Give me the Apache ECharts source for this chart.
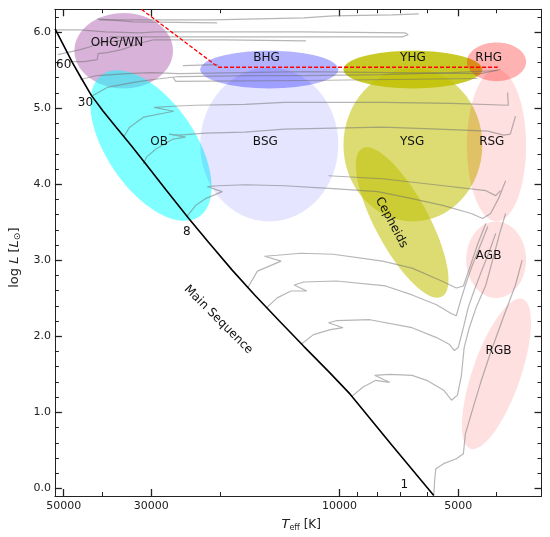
<!DOCTYPE html>
<html>
<head>
<meta charset="utf-8">
<title>HR diagram</title>
<script src="https://cdn.jsdelivr.net/npm/echarts@6.0.0/dist/echarts.min.js"></script>
<style>
  html, body { margin: 0; padding: 0; background: #fff; }
  #chart { width: 550px; height: 537px; }
</style>
</head>
<body>
<div id="chart"></div>
<script>
// x = log10(Teff / K), y = log10(L / Lsun)
var majorTeff = [50000, 30000, 10000, 5000];
var minorTeff = [40000, 20000, 9000, 8000, 7000, 6000, 4000];
var majorLogL = [0, 1, 2, 3, 4, 5, 6];
var minorLogL = [0.2, 0.4, 0.6, 0.8, 1.2, 1.4, 1.6, 1.8, 2.2, 2.4, 2.6, 2.8,
                 3.2, 3.4, 3.6, 3.8, 4.2, 4.4, 4.6, 4.8, 5.2, 5.4, 5.6, 5.8, 6.2];

// zero age main sequence
var msLogT = [4.721, 4.699, 4.677, 4.654, 4.629, 4.599, 4.564, 4.527, 4.489, 4.440,
              4.382, 4.332, 4.272, 4.215, 4.153, 4.090, 4.028, 3.973, 3.866, 3.761];
var msLogL = [6.043, 5.821, 5.599, 5.390, 5.168, 4.959, 4.737, 4.502, 4.254, 3.928,
              3.549, 3.236, 2.870, 2.544, 2.205, 1.865, 1.539, 1.239, 0.560, -0.093];

// Humphreys-Davidson limit
var hdLogT = [4.502, 4.307, 3.599];
var hdLogL = [6.30, 5.538, 5.538];

// evolutionary tracks [logTeff, logL]
var track120 = [[4.609, 6.160], [4.465, 6.160], [4.322, 6.160], [4.090, 6.186], [4.016, 6.213], [3.866, 6.226], [3.799, 6.239]];
var track120b = [[4.614, 6.173], [4.522, 6.134], [4.310, 6.121]];
var track85 = [[4.721, 6.030], [4.657, 6.030], [4.594, 6.004], [4.507, 5.991], [4.465, 6.004], [4.090, 6.004],
               [3.834, 5.991], [3.826, 5.965], [3.841, 5.938], [4.115, 5.938], [4.465, 5.938], [4.584, 5.938]];
var track60 = [[4.684, 5.612], [4.647, 5.612], [4.614, 5.638], [4.612, 5.716], [4.589, 5.730], [4.552, 5.769],
               [4.502, 5.860], [4.472, 5.899], [4.290, 5.899], [4.085, 5.886]];
var track60b = [[4.714, 5.703], [4.657, 5.769], [4.632, 5.808], [4.607, 5.860], [4.539, 5.899]];
var track40 = [[4.657, 5.377], [4.614, 5.429], [4.539, 5.455], [4.477, 5.468], [4.407, 5.455], [4.090, 5.481],
               [3.642, 5.455], [3.592, 5.508]];
var track40b = [[4.422, 5.403], [4.415, 5.351], [4.090, 5.364], [3.651, 5.390]];
var track40c = [[4.397, 5.560], [4.307, 5.573]];
var track30 = [[4.629, 5.155], [4.589, 5.273], [4.522, 5.338], [4.472, 5.377], [4.407, 5.416], [4.215, 5.429],
               [4.090, 5.429], [3.891, 5.442], [3.716, 5.468], [3.599, 5.495]];
var track20 = [[4.547, 4.620], [4.532, 4.750], [4.497, 4.881], [4.420, 4.959], [4.470, 5.011], [4.422, 5.025],
               [4.365, 5.038], [4.240, 5.051], [4.140, 5.077], [3.891, 5.077], [3.716, 5.064], [3.572, 5.038], [3.574, 5.207]];
var track12 = [[4.497, 4.267], [4.489, 4.359], [4.465, 4.463], [4.422, 4.594], [4.390, 4.620], [4.432, 4.659],
               [4.407, 4.646], [4.340, 4.672], [4.240, 4.685], [4.140, 4.724], [3.891, 4.750], [3.749, 4.724],
               [3.624, 4.698], [3.584, 4.646], [3.567, 4.659], [3.554, 4.894]];
var track9 = [[4.028, 4.111], [3.891, 4.072], [3.736, 3.980], [3.629, 3.915], [3.604, 3.850], [3.592, 3.915]];
var track8 = [[4.387, 3.575], [4.365, 3.719], [4.340, 3.810], [4.297, 3.902], [4.335, 3.967], [4.307, 3.980],
              [4.240, 3.993], [4.140, 3.980], [4.016, 3.941], [3.903, 3.902], [3.816, 3.810], [3.736, 3.719],
              [3.666, 3.615], [3.637, 3.549], [3.617, 3.615], [3.597, 3.810], [3.579, 4.045]];
var track5 = [[4.233, 2.635], [4.208, 2.857], [4.148, 2.988], [4.190, 3.053], [4.158, 3.066], [4.098, 3.092],
              [4.016, 3.079], [3.891, 2.988], [3.816, 2.897], [3.741, 2.727], [3.704, 2.635], [3.686, 2.662],
              [3.666, 2.962], [3.649, 3.223], [3.629, 3.484]];
var track4 = [[4.185, 2.374], [4.158, 2.505], [4.123, 2.596], [4.083, 2.596], [4.115, 2.675], [4.090, 2.714],
              [4.008, 2.727], [3.883, 2.662], [3.816, 2.544], [3.754, 2.414], [3.716, 2.296], [3.704, 2.270],
              [3.691, 2.505], [3.679, 2.701], [3.666, 2.897], [3.646, 3.158], [3.624, 3.445]];
var track3 = [[4.098, 1.891], [4.066, 2.022], [4.023, 2.087], [3.991, 2.113], [4.028, 2.178], [4.008, 2.205],
              [3.923, 2.218], [3.816, 2.113], [3.754, 1.983], [3.721, 1.891], [3.709, 1.813], [3.699, 1.852],
              [3.686, 2.113], [3.674, 2.374], [3.661, 2.570], [3.642, 2.831], [3.622, 3.092], [3.604, 3.354]];
var track2 = [[3.968, 1.213], [3.941, 1.330], [3.908, 1.421], [3.873, 1.395], [3.911, 1.487], [3.873, 1.500],
              [3.816, 1.487], [3.779, 1.421], [3.736, 1.291], [3.716, 1.160], [3.701, 1.226], [3.691, 1.487],
              [3.684, 1.852], [3.671, 2.113], [3.654, 2.374], [3.629, 2.675], [3.612, 3.001], [3.594, 3.354], [3.579, 3.615]];
var track1 = [[3.761, -0.093], [3.759, 0.090], [3.756, 0.259], [3.736, 0.325], [3.704, 0.390], [3.686, 0.455],
              [3.681, 0.716], [3.661, 1.069], [3.642, 1.395], [3.617, 1.787], [3.587, 2.218], [3.554, 2.675], [3.537, 3.001]];

// stellar regions: centre, semi-axes (dex), tilt (deg)
var regionNames = ['OHG/WN', 'OB', 'BHG', 'BSG', 'YHG', 'YSG', 'Cepheids', 'RHG', 'RSG', 'AGB', 'RGB'];
var regionLogT  = [4.547, 4.478, 4.178, 4.178, 3.814, 3.814, 3.841, 3.602, 3.602, 3.603, 3.602];
var regionLogL  = [5.756, 4.509, 5.508, 4.522, 5.508, 4.515, 3.497, 5.609, 4.509, 3.008, 1.506];
var regionHalfT = [0.125, 0.218, 0.175, 0.175, 0.176, 0.176, 0.2135, 0.075, 0.075, 0.076, 0.201];
var regionHalfL = [0.496, 0.581, 0.248, 1.012, 0.248, 1.005, 0.352, 0.255, 0.999, 0.503, 0.316];
var regionTilt  = [0, -55.7, 0, 0, 0, 0, -61.7, 0, 0, 0, 70.8];

// annotations
var labelText = ['OHG/WN', 'BHG', 'YHG', 'RHG', 'OB', 'BSG', 'YSG', 'RSG', 'AGB', 'RGB',
                 'Cepheids', 'Main Sequence', '60', '30', '8', '1'];
var labelLogT = [4.564, 4.185, 3.814, 3.622, 4.457, 4.188, 3.816, 3.614, 3.622, 3.597,
                 3.8685, 4.307, 4.699, 4.644, 4.387, 3.836];
var labelLogL = [5.860, 5.664, 5.664, 5.664, 4.560, 4.560, 4.560, 4.560, 3.053, 1.813,
                 3.497, 2.218, 5.573, 5.064, 3.367, 0.051];
var labelTilt = [0, 0, 0, 0, 0, 0, 0, 0, 0, 0, -62, -45, 0, 0, 0, 0];

var regionColors = [
  'rgba(128,0,128,0.3)', 'rgba(0,255,255,0.5)', 'rgba(0,0,255,0.3)', 'rgba(0,0,255,0.1)',
  'rgba(191,191,0,0.85)', 'rgba(191,191,0,0.55)', 'rgba(191,191,0,0.55)',
  'rgba(255,0,0,0.3)', 'rgba(255,0,0,0.12)', 'rgba(255,0,0,0.12)', 'rgba(255,0,0,0.12)'
];

var tracks = [track120, track120b, track85, track60, track60b, track40, track40b, track40c, track30,
              track20, track12, track9, track8, track5, track4, track3, track2, track1];

var FONT = 'DejaVu Sans';
var INK = '#222';
var log10 = function (v) { return Math.log10(v); };
var xMin = 3.488, xMax = 4.7214;

function xAxisDef(pos, values, len, labels) {
  return {
    type: 'value', position: pos, min: xMin, max: xMax, inverse: true,
    axisLine: { show: labels !== null, onZero: false, lineStyle: { color: INK, width: 1 } },
    axisTick: { show: true, inside: true, length: len, customValues: values,
                lineStyle: { color: INK, width: len > 5 ? 1.3 : 1 } },
    axisLabel: labels ? {
      show: true, customValues: values, margin: 5, color: INK, fontFamily: FONT, fontSize: 11,
      formatter: function (v) { return String(Math.round(Math.pow(10, v))); }
    } : { show: false },
    splitLine: { show: false }
  };
}
function yAxisDef(pos, values, len, labels) {
  return {
    type: 'value', position: pos, min: -0.1, max: 6.3,
    axisLine: { show: labels !== null, onZero: false, lineStyle: { color: INK, width: 1 } },
    axisTick: { show: true, inside: true, length: len, customValues: values,
                lineStyle: { color: INK, width: len > 5 ? 1.3 : 1 } },
    axisLabel: labels ? {
      show: true, customValues: values, margin: 4, color: INK, fontFamily: FONT, fontSize: 11,
      formatter: function (v) { return v.toFixed(1); }
    } : { show: false },
    splitLine: { show: false }
  };
}

var xBottom = xAxisDef('bottom', majorTeff.map(log10), 7, true);
xBottom.name = '{it|T}{sub|eff} [K]';
xBottom.nameLocation = 'middle';
xBottom.nameGap = 21;
xBottom.nameTextStyle = {
  fontFamily: FONT, fontSize: 12, color: INK, padding: [0, 0, 0, 6],
  rich: {
    it: { fontFamily: FONT, fontSize: 13, fontStyle: 'italic', color: INK },
    sub: { fontFamily: FONT, fontSize: 8, color: INK, padding: [7, 0, 0, 0] }
  }
};
var yLeft = yAxisDef('left', majorLogL, 7, true);
yLeft.name = 'log {it|L} [{it|L}{sub|⊙}]';
yLeft.nameLocation = 'middle';
yLeft.nameGap = 27;
yLeft.nameTextStyle = {
  fontFamily: FONT, fontSize: 13, color: INK, padding: [0, 10, 0, 0],
  rich: {
    it: { fontFamily: FONT, fontSize: 13, fontStyle: 'italic', color: INK },
    sub: { fontFamily: FONT, fontSize: 9, color: INK, padding: [7, 0, 0, 0] }
  }
};

var series = [];
series.push({
  type: 'custom', name: 'regions', z: 1, silent: true,
  encode: { x: 0, y: 1 },
  data: regionNames.map(function (n, i) {
    return [regionLogT[i], regionLogL[i], regionHalfT[i], regionHalfL[i], regionTilt[i]];
  }),
  renderItem: function (params, api) {
    var c = api.coord([api.value(0), api.value(1)]);
    var rx = api.size([api.value(2), 0])[0];
    var ry = api.size([0, api.value(3)])[1];
    return {
      type: 'ellipse', x: c[0], y: c[1], rotation: api.value(4) * Math.PI / 180,
      shape: { cx: 0, cy: 0, rx: rx, ry: ry },
      style: { fill: regionColors[params.dataIndex], stroke: null }
    };
  }
});
tracks.forEach(function (t) {
  series.push({
    type: 'line', z: 2, silent: true, showSymbol: false, symbol: 'none',
    data: t, lineStyle: { color: 'rgba(110,110,110,0.5)', width: 1.2 }
  });
});
series.push({
  type: 'line', name: 'MS', z: 3, silent: true, showSymbol: false, symbol: 'none',
  data: msLogT.map(function (v, i) { return [v, msLogL[i]]; }),
  lineStyle: { color: '#000', width: 1.6 }
});
series.push({
  type: 'line', name: 'HD', z: 3, silent: true, showSymbol: false, symbol: 'none',
  data: hdLogT.map(function (v, i) { return [v, hdLogL[i]]; }),
  lineStyle: { color: '#ff0000', width: 1.3, type: [4, 2] }
});
series.push({
  type: 'custom', name: 'labels', z: 4, silent: true,
  encode: { x: 0, y: 1 },
  data: labelText.map(function (s, i) { return [labelLogT[i], labelLogL[i], labelTilt[i]]; }),
  renderItem: function (params, api) {
    var c = api.coord([api.value(0), api.value(1)]);
    return {
      type: 'text', x: c[0], y: c[1], rotation: api.value(2) * Math.PI / 180,
      style: {
        text: labelText[params.dataIndex], fill: '#111', fontFamily: FONT, fontSize: 12,
        align: 'center', verticalAlign: 'middle'
      }
    };
  }
});

var chart = echarts.init(document.getElementById('chart'));
chart.setOption({
  animation: false,
  backgroundColor: '#fff',
  grid: { left: 47, right: 8.5, top: 9.3, bottom: 38 },
  xAxis: [
    xBottom,
    xAxisDef('bottom', minorTeff.map(log10), 4, null),
    xAxisDef('top', majorTeff.map(log10), 7, false),
    xAxisDef('top', minorTeff.map(log10), 4, null)
  ],
  yAxis: [
    yLeft,
    yAxisDef('left', minorLogL, 4, null),
    yAxisDef('right', majorLogL, 7, false),
    yAxisDef('right', minorLogL, 4, null)
  ],
  series: series
});
window.addEventListener('resize', function () { chart.resize(); });
</script>
</body>
</html>
